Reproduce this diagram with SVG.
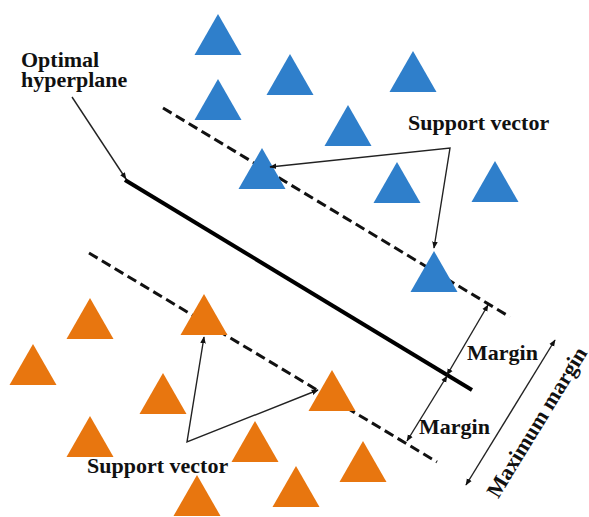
<svg xmlns="http://www.w3.org/2000/svg" width="589" height="517" viewBox="0 0 589 517">
<defs>
<style>
.blue{fill:#2F7FCB}
.orange{fill:#E8760F}
.t{font-family:"Liberation Serif","Times New Roman",serif;font-weight:bold;font-size:22px;fill:#111}
.dash{stroke:#111;stroke-width:3;stroke-dasharray:10 5;fill:none}
.thin{stroke:#222;stroke-width:1.4;fill:none}
</style>
<marker id="ah" viewBox="0 0 10 10" refX="9" refY="5" markerWidth="7" markerHeight="7" orient="auto-start-reverse" markerUnits="userSpaceOnUse">
<path d="M0,1 L10,5 L0,9 Z" fill="#111"/>
</marker>
<polygon id="tri" points="0,0 23.5,41 -23.5,41"/>
</defs>
<rect width="589" height="517" fill="#fff"/>
<g id="lines">
<line x1="125" y1="180" x2="472" y2="390" stroke="#000" stroke-width="4"/>
<line class="dash" x1="163" y1="108" x2="510" y2="317"/>
<line class="dash" x1="89" y1="253" x2="437" y2="462"/>
</g>
<g id="blue-points">
<use href="#tri" class="blue" x="218" y="14"/>
<use href="#tri" class="blue" x="290" y="54"/>
<use href="#tri" class="blue" x="218" y="79"/>
<use href="#tri" class="blue" x="262" y="148"/>
<use href="#tri" class="blue" x="413" y="51"/>
<use href="#tri" class="blue" x="348" y="105"/>
<use href="#tri" class="blue" x="397" y="162"/>
<use href="#tri" class="blue" x="495" y="161"/>
<use href="#tri" class="blue" x="434" y="251"/>
</g>
<g id="orange-points">
<use href="#tri" class="orange" x="90" y="298"/>
<use href="#tri" class="orange" x="33" y="344"/>
<use href="#tri" class="orange" x="204" y="294"/>
<use href="#tri" class="orange" x="163" y="373"/>
<use href="#tri" class="orange" x="90" y="416"/>
<use href="#tri" class="orange" x="255" y="421"/>
<use href="#tri" class="orange" x="332" y="370"/>
<use href="#tri" class="orange" x="363" y="441"/>
<use href="#tri" class="orange" x="197" y="475"/>
<use href="#tri" class="orange" x="296" y="466"/>
</g>
<g id="connectors">
<line class="thin" x1="72" y1="97" x2="126" y2="179" marker-end="url(#ah)"/>
<polyline class="thin" points="270,167 450,148 434,248" marker-start="url(#ah)" marker-end="url(#ah)"/>
<polyline class="thin" points="204,337 187,442 318,390" marker-start="url(#ah)" marker-end="url(#ah)"/>
<line class="thin" x1="488" y1="305" x2="447" y2="375" marker-start="url(#ah)" marker-end="url(#ah)"/>
<line class="thin" x1="447" y1="376" x2="407" y2="441" marker-start="url(#ah)" marker-end="url(#ah)"/>
<line class="thin" x1="555" y1="340" x2="466" y2="485" marker-start="url(#ah)" marker-end="url(#ah)"/>
</g>
<g id="labels">
<text class="t" x="21" y="67">Optimal</text>
<text class="t" x="21" y="87">hyperplane</text>
<text class="t" x="408" y="130">Support vector</text>
<text class="t" x="87" y="473">Support vector</text>
<text class="t" x="467" y="360">Margin</text>
<text class="t" x="419" y="434">Margin</text>
<text class="t" x="0" y="0" text-anchor="middle" font-size="21" transform="translate(543,426) rotate(-58.5)">Maximum margin</text>
</g>
</svg>
